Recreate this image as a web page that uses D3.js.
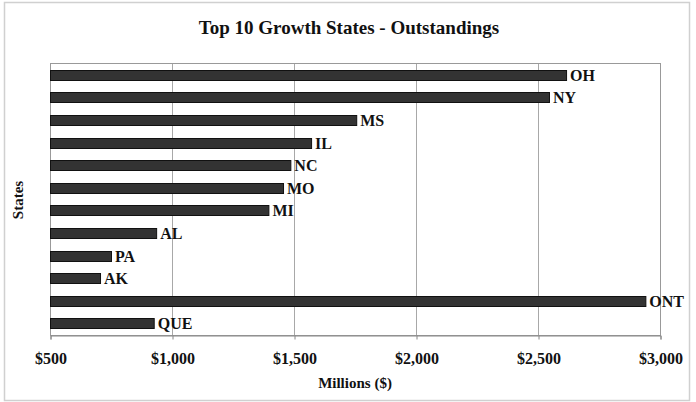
<!DOCTYPE html>
<html>
<head>
<meta charset="utf-8">
<script src="https://cdn.jsdelivr.net/npm/d3@7/dist/d3.min.js"></script>
<style>
  html, body { margin: 0; padding: 0; background: #fff; }
  svg { display: block; font-family: "Liberation Serif", "Times New Roman", serif; }
</style>
</head>
<body>
<svg id="chart" width="696" height="402"></svg>
<script>
// Outstandings by state / province, in millions of dollars
const states = ["OH", "NY", "MS", "IL", "NC", "MO", "MI", "AL", "PA", "AK", "ONT", "QUE"];
const outstandings = [2615, 2545, 1755, 1570, 1485, 1455, 1395, 935, 750, 705, 2940, 925];
const tickValues = [500, 1000, 1500, 2000, 2500, 3000];

const svg = d3.select("#chart");
const plot = { left: 50, right: 660, top: 63, bottom: 335 };

// outer frame
svg.append("rect")
  .attr("x", 4.5).attr("y", 2.5)
  .attr("width", 685).attr("height", 398)
  .attr("fill", "#fff").attr("stroke", "#d0d0d0").attr("stroke-width", 1.5);

const x = d3.scaleLinear().domain([500, 3000]).range([plot.left, plot.right]);
const y = d3.scaleBand().domain(states).range([plot.top, plot.bottom]).paddingInner(0.56).paddingOuter(0.3);

// vertical gridlines
svg.append("g")
  .selectAll("line")
  .data(tickValues.slice(1, -1))
  .join("line")
  .attr("x1", d => x(d) + 0.5).attr("x2", d => x(d) + 0.5)
  .attr("y1", plot.top).attr("y2", plot.bottom)
  .attr("stroke", "#a8a8a8").attr("stroke-width", 1);

// plot frame
svg.append("rect")
  .attr("x", plot.left + 0.5).attr("y", plot.top + 0.5)
  .attr("width", plot.right - plot.left).attr("height", plot.bottom - plot.top)
  .attr("fill", "none").attr("stroke", "#999").attr("stroke-width", 1);

// bottom axis
const xAxis = d3.axisBottom(x)
  .tickValues(tickValues)
  .tickSize(4)
  .tickPadding(13)
  .tickFormat(d => "$" + d3.format(",")(d));

const gx = svg.append("g")
  .attr("transform", `translate(0.5,${plot.bottom + 0.5})`)
  .call(xAxis);
gx.select(".domain").attr("stroke", "#888");
gx.selectAll(".tick line").attr("stroke", "#888");
gx.selectAll(".tick text")
  .attr("font-family", "Liberation Serif, serif")
  .attr("font-size", 16).attr("font-weight", "bold").attr("fill", "#111");

// bars
svg.append("g")
  .selectAll("rect")
  .data(states)
  .join("rect")
  .attr("x", plot.left + 0.5)
  .attr("y", d => Math.round(y(d)) + 0.5)
  .attr("width", (d, i) => x(outstandings[i]) - plot.left)
  .attr("height", Math.round(y.bandwidth()))
  .attr("fill", "#333")
  .attr("stroke", "#111")
  .attr("stroke-width", 1);

// bar labels
svg.append("g")
  .selectAll("text")
  .data(states)
  .join("text")
  .attr("x", (d, i) => x(outstandings[i]) + 4)
  .attr("y", d => Math.round(y(d)) + y.bandwidth() / 2 + 6)
  .attr("font-size", 16).attr("font-weight", "bold").attr("fill", "#111")
  .text(d => d);

// title
svg.append("text")
  .attr("x", 349).attr("y", 34)
  .attr("text-anchor", "middle")
  .attr("font-size", 19).attr("font-weight", "bold").attr("fill", "#111")
  .text("Top 10 Growth States - Outstandings");

// axis titles
svg.append("text")
  .attr("x", 355).attr("y", 388)
  .attr("text-anchor", "middle")
  .attr("font-size", 15).attr("font-weight", "bold").attr("fill", "#111")
  .text("Millions ($)");

svg.append("text")
  .attr("transform", "translate(23,200) rotate(-90)")
  .attr("text-anchor", "middle")
  .attr("font-size", 15).attr("font-weight", "bold").attr("fill", "#111")
  .text("States");
</script>
</body>
</html>
